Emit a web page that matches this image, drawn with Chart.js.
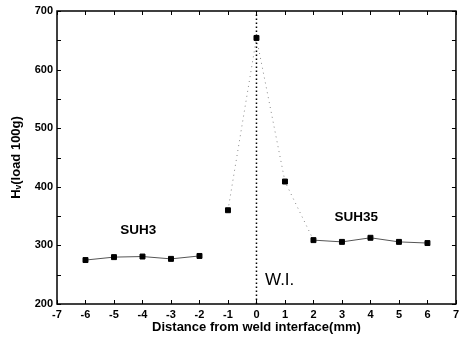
<!DOCTYPE html>
<html>
<head>
<meta charset="utf-8">
<script src="https://cdn.jsdelivr.net/npm/chart.js@4.4.0/dist/chart.umd.min.js"></script>
<style>
  html, body { margin: 0; padding: 0; background: #fff; }
  #wrap { width: 463px; height: 346px; }
</style>
</head>
<body>
<div id="wrap"><canvas id="hvChart"></canvas></div>
<script>
// Distance from weld interface (mm) and hardness values
const distances = [-6, -5, -4, -3, -2, -1, 0, 1, 2, 3, 4, 5, 6];
const hardness = [275, 280, 281, 277, 282, 360, 654, 409, 309, 306, 313, 306, 304];
// weld interface marker
const interfaceX = [0, 0];
const interfaceY = [200, 700];
// text labels placed in data units
const noteText = ['SUH3', 'SUH35', 'W.I.'];
const noteX = [-4.15, 3.5, 0.3];
const noteY = [326, 348, 241];

const FONT = '"Liberation Sans", Arial, sans-serif';

// frame, inward ticks and text notes
const framePlugin = {
    id: 'framePlugin',
    afterDraw(chart) {
        const c = chart.ctx;
        const a = chart.chartArea;
        const xs = chart.scales.x;
        const ys = chart.scales.y;
        c.save();
        c.strokeStyle = '#000';
        c.lineWidth = 1.5;
        c.strokeRect(a.left, a.top, a.right - a.left, a.bottom - a.top);
        c.lineWidth = 1;
        xs.ticks.forEach(t => {
            const px = Math.round(xs.getPixelForValue(t.value)) + 0.5;
            c.beginPath();
            c.moveTo(px, a.bottom); c.lineTo(px, a.bottom - 4);
            c.moveTo(px, a.top); c.lineTo(px, a.top + 4);
            c.stroke();
        });
        ys.ticks.forEach(t => {
            const py = Math.round(ys.getPixelForValue(t.value)) + 0.5;
            c.beginPath();
            c.moveTo(a.left, py); c.lineTo(a.left + 4, py);
            c.moveTo(a.right, py); c.lineTo(a.right - 4, py);
            c.stroke();
        });
        c.fillStyle = '#000';
        c.textBaseline = 'middle';
        noteText.forEach((txt, i) => {
            const px = xs.getPixelForValue(noteX[i]);
            const py = ys.getPixelForValue(noteY[i]);
            if (txt === 'W.I.') {
                c.font = '17px ' + FONT;
                c.textAlign = 'left';
            } else {
                c.font = 'bold 13.5px ' + FONT;
                c.textAlign = 'center';
            }
            c.fillText(txt, px, py);
        });
        c.restore();
    }
};

const ctx = document.getElementById('hvChart');

new Chart(ctx, {
    type: 'line',
    data: {
        datasets: [
            {
                label: 'Hv',
                data: distances.map((d, i) => ({ x: d, y: hardness[i] })),
                borderColor: '#555',
                borderWidth: 1,
                pointStyle: 'rect',
                pointRadius: 3.5,
                pointBackgroundColor: '#000',
                pointBorderColor: '#000',
                segment: {
                    borderColor: s => {
                        if (s.p0DataIndex === 4) return 'rgba(0,0,0,0)';
                        if (s.p0DataIndex >= 5 && s.p0DataIndex <= 7) return '#888';
                        return '#555';
                    },
                    borderDash: s => (s.p0DataIndex >= 5 && s.p0DataIndex <= 7) ? [1, 4] : undefined
                }
            },
            {
                label: 'W.I.',
                data: interfaceX.map((d, i) => ({ x: d, y: interfaceY[i] })),
                borderColor: '#000',
                borderWidth: 1.5,
                borderDash: [1.5, 2.5],
                pointRadius: 0
            }
        ]
    },
    options: {
        responsive: true,
        maintainAspectRatio: false,
        animation: false,
        layout: {
            padding: { top: 11, right: 2, bottom: 0, left: 0 }
        },
        plugins: {
            legend: { display: false },
            tooltip: { enabled: false }
        },
        scales: {
            x: {
                type: 'linear',
                min: -7,
                max: 7,
                afterFit: s => { s.height = 42; },
                grid: { display: false, drawTicks: false },
                border: { display: false },
                ticks: {
                    stepSize: 1,
                    padding: 4,
                    color: '#000',
                    font: { family: FONT, size: 11, weight: 'bold' }
                },
                title: {
                    display: true,
                    text: 'Distance from weld interface(mm)',
                    color: '#000',
                    padding: { top: 0, bottom: 11 },
                    font: { family: FONT, size: 13, weight: 'bold' }
                }
            },
            y: {
                min: 200,
                max: 700,
                afterFit: s => { s.width = 57; },
                grid: { display: false, drawTicks: false },
                border: { display: false },
                ticks: {
                    stepSize: 50,
                    padding: 4,
                    color: '#000',
                    font: { family: FONT, size: 11, weight: 'bold' },
                    callback: v => (v % 100 === 0 ? v : '')
                },
                title: {
                    display: true,
                    text: 'Hᵥ(load 100g)',
                    color: '#000',
                    padding: { top: 9, bottom: 0 },
                    font: { family: FONT, size: 13, weight: 'bold' }
                }
            }
        }
    },
    plugins: [framePlugin]
});
</script>
</body>
</html>
